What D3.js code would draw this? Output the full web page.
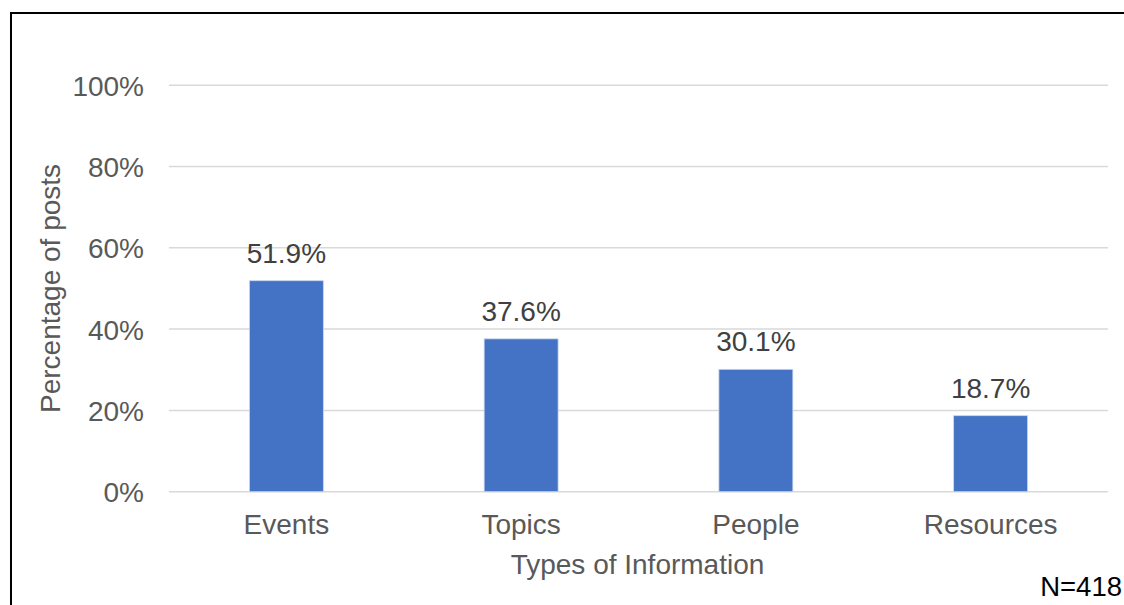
<!DOCTYPE html>
<html>
<head>
<meta charset="utf-8">
<script src="https://cdn.jsdelivr.net/npm/d3@7"></script>
<style>
  html, body { margin: 0; padding: 0; background: #fff; }
  svg { display: block; font-family: Arial, "Liberation Sans", sans-serif; }
</style>
</head>
<body>
<svg id="chart" width="1124" height="605"></svg>
<script>
// Share of posts by type of information
const categories = ["Events", "Topics", "People", "Resources"];
const values = [51.9, 37.6, 30.1, 18.7];
const yTicks = [0, 20, 40, 60, 80, 100];
const sampleNote = "N=418";

const svg = d3.select("#chart");
const W = 1124, H = 605;
const plot = { left: 169, right: 1108, top: 85.2, bottom: 491.7 };
const fontSize = "28px";

// outer frame
svg.append("rect")
  .attr("x", 11).attr("y", 13)
  .attr("width", W).attr("height", H)
  .attr("fill", "none").attr("stroke", "#000").attr("stroke-width", 2);

const x = d3.scaleBand()
  .domain(categories)
  .range([plot.left, plot.right])
  .paddingInner(0.685)
  .paddingOuter(0.3425);

const y = d3.scaleLinear().domain([0, 100]).range([plot.bottom, plot.top]);

// gridlines
svg.append("g")
  .selectAll("line")
  .data(yTicks)
  .join("line")
  .attr("x1", plot.left).attr("x2", plot.right)
  .attr("y1", d => y(d)).attr("y2", d => y(d))
  .attr("stroke", "#d9d9d9").attr("stroke-width", 1.5);

// y axis labels
const yAxis = d3.axisLeft(y).tickValues(yTicks).tickFormat(d => d + "%").tickSize(0).tickPadding(25);
const gy = svg.append("g").attr("transform", `translate(${plot.left},0)`).call(yAxis);
gy.select(".domain").remove();
gy.selectAll("text")
  .attr("fill", "#595959")
  .style("font-size", fontSize)
  .attr("dy", "0.36em");

// x axis labels
const xAxis = d3.axisBottom(x).tickSize(0).tickPadding(0);
const gx = svg.append("g").attr("transform", `translate(0,${plot.bottom})`).call(xAxis);
gx.select(".domain").remove();
gx.selectAll("text")
  .attr("fill", "#595959")
  .style("font-size", fontSize)
  .attr("dy", null)
  .attr("y", 42.6);

// bars
svg.append("g")
  .selectAll("rect")
  .data(values)
  .join("rect")
  .attr("x", (d, i) => x(categories[i]))
  .attr("width", x.bandwidth())
  .attr("y", d => y(d))
  .attr("height", d => y(0) - y(d))
  .attr("fill", "#4472C4")
  .attr("stroke", "#c9d6ee")
  .attr("stroke-width", 0.8);

// value labels
svg.append("g")
  .selectAll("text")
  .data(values)
  .join("text")
  .attr("x", (d, i) => x(categories[i]) + x.bandwidth() / 2)
  .attr("y", d => y(d) - 18)
  .attr("text-anchor", "middle")
  .attr("fill", "#404040")
  .style("font-size", fontSize)
  .text(d => d.toFixed(1) + "%");

// axis titles
svg.append("text")
  .attr("x", (plot.left + plot.right) / 2 - 1)
  .attr("y", 574)
  .attr("text-anchor", "middle")
  .attr("fill", "#595959")
  .style("font-size", fontSize)
  .text("Types of Information");

svg.append("text")
  .attr("transform", `translate(60,${(plot.top + plot.bottom) / 2}) rotate(-90)`)
  .attr("text-anchor", "middle")
  .attr("fill", "#595959")
  .style("font-size", fontSize)
  .text("Percentage of posts");

// sample size note
svg.append("text")
  .attr("x", 1122)
  .attr("y", 596)
  .attr("text-anchor", "end")
  .attr("fill", "#000")
  .style("font-size", "27.5px")
  .text(sampleNote);
</script>
</body>
</html>
